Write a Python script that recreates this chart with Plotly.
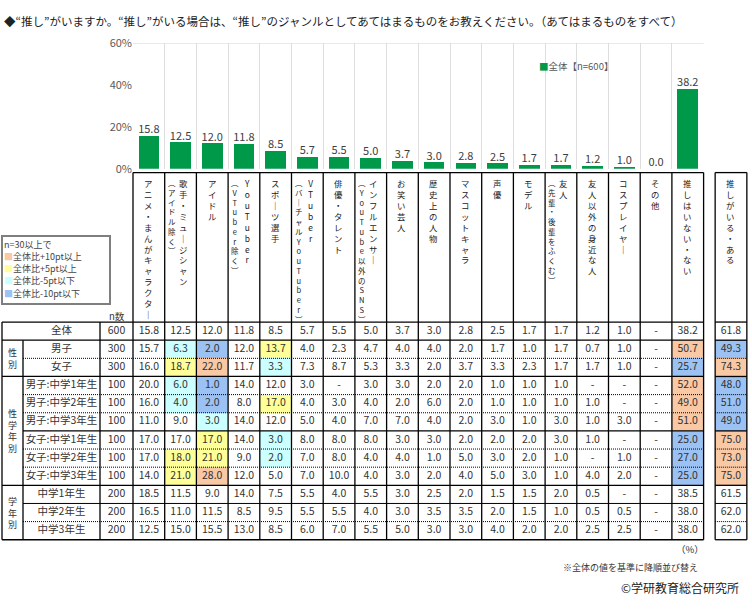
import plotly.graph_objects as go

W, HF = 752, 609
FONT = "Noto Sans CJK JP, Noto Sans, sans-serif"

# ---------------- data ----------------
categories = ["アニメ・まんがキャラクター", "歌手・ミュージシャン", "アイドル", "YouTuber", "スポーツ選手",
              "VTuber", "俳優・タレント", "インフルエンサー", "お笑い芸人", "歴史上の人物",
              "マスコットキャラ", "声優", "モデル", "友人", "友人以外の身近な人", "コスプレイヤー",
              "その他", "推しはいない・ない"]
sub_labels = [None, "（アイドル除く）", None, "（VTuber除く）", None, "（バーチャルYouTuber）", None,
              "（YouTube以外のSNS）", None, None, None, None, None, "（先輩・後輩をふくむ）", None, None,
              None, None]
extra_category = "推しがいる・ある"

row_labels = ["全体", "男子", "女子", "男子:中学1年生", "男子:中学2年生", "男子:中学3年生",
              "女子:中学1年生", "女子:中学2年生", "女子:中学3年生", "中学1年生", "中学2年生", "中学3年生"]
group_labels = [("性別", 1, 2), ("性学年別", 3, 8), ("学年別", 9, 11)]
n_values = [600, 300, 300, 100, 100, 100, 100, 100, 100, 200, 200, 200]

v_total = [15.8, 12.5, 12.0, 11.8, 8.5, 5.7, 5.5, 5.0, 3.7, 3.0, 2.8, 2.5, 1.7, 1.7, 1.2, 1.0, None, 38.2]
v_boys = [15.7, 6.3, 2.0, 12.0, 13.7, 4.0, 2.3, 4.7, 4.0, 4.0, 2.0, 1.7, 1.0, 1.7, 0.7, 1.0, None, 50.7]
v_girls = [16.0, 18.7, 22.0, 11.7, 3.3, 7.3, 8.7, 5.3, 3.3, 2.0, 3.7, 3.3, 2.3, 1.7, 1.7, 1.0, None, 25.7]
v_boys1 = [20.0, 6.0, 1.0, 14.0, 12.0, 3.0, None, 3.0, 3.0, 2.0, 2.0, 1.0, 1.0, 1.0, None, None, None, 52.0]
v_boys2 = [16.0, 4.0, 2.0, 8.0, 17.0, 4.0, 3.0, 4.0, 2.0, 6.0, 2.0, 1.0, 1.0, 1.0, 1.0, None, None, 49.0]
v_boys3 = [11.0, 9.0, 3.0, 14.0, 12.0, 5.0, 4.0, 7.0, 7.0, 4.0, 2.0, 3.0, 1.0, 3.0, 1.0, 3.0, None, 51.0]
v_girls1 = [17.0, 17.0, 17.0, 14.0, 3.0, 8.0, 8.0, 8.0, 3.0, 3.0, 2.0, 2.0, 2.0, 3.0, 1.0, None, None, 25.0]
v_girls2 = [17.0, 18.0, 21.0, 9.0, 2.0, 7.0, 8.0, 4.0, 4.0, 1.0, 5.0, 3.0, 2.0, 1.0, None, 1.0, None, 27.0]
v_girls3 = [14.0, 21.0, 28.0, 12.0, 5.0, 7.0, 10.0, 4.0, 3.0, 2.0, 4.0, 5.0, 3.0, 1.0, 4.0, 2.0, None, 25.0]
v_grade1 = [18.5, 11.5, 9.0, 14.0, 7.5, 5.5, 4.0, 5.5, 3.0, 2.5, 2.0, 1.5, 1.5, 2.0, 0.5, None, None, 38.5]
v_grade2 = [16.5, 11.0, 11.5, 8.5, 9.5, 5.5, 5.5, 4.0, 3.0, 3.5, 3.5, 2.0, 1.5, 1.0, 0.5, 0.5, None, 38.0]
v_grade3 = [12.5, 15.0, 15.5, 13.0, 8.5, 6.0, 7.0, 5.5, 5.0, 3.0, 3.0, 4.0, 2.0, 2.0, 2.5, 2.5, None, 38.0]
oshi_aru = [61.8, 49.3, 74.3, 48.0, 51.0, 49.0, 75.0, 73.0, 75.0, 61.5, 62.0, 62.0]

rows = [v_total, v_boys, v_girls, v_boys1, v_boys2, v_boys3, v_girls1, v_girls2, v_girls3,
        v_grade1, v_grade2, v_grade3]
bar_values = [v if v is not None else 0.0 for v in v_total]

y_ticks = [0, 20, 40, 60]
legend_title = "n=30以上で"
legend_items = ["全体比+10pt以上", "全体比+5pt以上", "全体比-5pt以下", "全体比-10pt以下"]

# ---------------- style ----------------
C_ORANGE, C_YELLOW, C_CYAN, C_BLUE = "#F9C8A5", "#FFFF99", "#CCFFFF", "#9BC2F2"
C_BAR = "#00994A"
TXT = "#333333"

X0, U = 133.0, 31.7          # column geometry (px)
Y0, RH = 321.5, 18.63         # first data row top, row height (px)


def px2x(p):
    return (p - X0) / U - 0.5


def px2y(p):
    return (p - Y0) / RH - 0.5


def pxp(p):
    return p / W


def pyp(p):
    return 1 - p / HF


def code(v, base, n):
    if v is None or base is None or n < 30:
        return None
    d = round(v - base, 1)
    if d >= 10:
        return 1
    if d >= 5:
        return 2
    if d <= -10:
        return 4
    if d <= -5:
        return 3
    return None


z_main = [[code(v, b, n) if r > 0 else None for v, b in zip(row, v_total)]
          for r, (row, n) in enumerate(zip(rows, n_values))]
z_extra = [[code(v, oshi_aru[0], n) if r > 0 else None]
           for r, (v, n) in enumerate(zip(oshi_aru, n_values))]
cscale = [[0, C_ORANGE], [1 / 3, C_YELLOW], [2 / 3, C_CYAN], [1, C_BLUE]]

fig = go.Figure()

# ---------------- bar chart ----------------
xs = list(range(len(categories)))
fig.add_trace(go.Bar(x=xs, y=bar_values, marker=dict(color=C_BAR, line=dict(width=0)),
                     width=0.65, xaxis="x", yaxis="y", hoverinfo="skip", showlegend=False))
fig.add_trace(go.Scatter(x=xs, y=bar_values, mode="text", text=[f"{v:.1f}" for v in bar_values],
                         textposition="top center", textfont=dict(size=11, color="#404040", family=FONT),
                         xaxis="x", yaxis="y", hoverinfo="skip", showlegend=False, cliponaxis=False))

# ---------------- table ----------------
EX = px2x(731)  # extra column centre
fig.add_trace(go.Heatmap(z=z_main, x=xs, y=list(range(len(rows))), colorscale=cscale, zmin=1, zmax=4,
                         showscale=False, hoverinfo="skip", xaxis="x2", yaxis="y2"))
fig.add_trace(go.Heatmap(z=z_extra, x=[EX], y=list(range(len(rows))), colorscale=cscale, zmin=1, zmax=4,
                         showscale=False, hoverinfo="skip", xaxis="x2", yaxis="y2"))

tx, ty, tt = [], [], []
for r, row in enumerate(rows):
    for c, v in enumerate(row):
        tx.append(c)
        ty.append(r)
        tt.append("-" if v is None else f"{v:.1f}")
    tx.append(EX)
    ty.append(r)
    tt.append(f"{oshi_aru[r]:.1f}")
    tx.append(px2x(116.5))
    ty.append(r)
    tt.append(str(n_values[r]))
fig.add_trace(go.Scatter(x=tx, y=ty, mode="text", text=tt, textposition="middle center",
                         textfont=dict(size=10.5, color=TXT, family=FONT), xaxis="x2", yaxis="y2",
                         hoverinfo="skip", showlegend=False, cliponaxis=False))

fig.add_trace(go.Scatter(x=[px2x(61.5)] * len(row_labels), y=list(range(len(row_labels))), mode="text",
                         text=row_labels, textposition="middle center",
                         textfont=dict(size=10.5, color=TXT, family=FONT), xaxis="x2", yaxis="y2",
                         hoverinfo="skip", showlegend=False, cliponaxis=False))

annotations = []

# group labels (vertical, one char per line)
for label, r0, r1 in group_labels:
    annotations.append(dict(xref="x2", yref="y2", x=px2x(12.5), y=(r0 + r1) / 2, showarrow=False,
                            text="<br>".join(label), xanchor="center", yanchor="middle", align="center",
                            borderpad=0, font=dict(size=9, color=TXT, family=FONT)))

# header vertical texts
VMAP = {"ー": "｜", "（": "︵", "）": "︶"}


def vert(s):
    return "<br>".join(VMAP.get(ch, ch) for ch in s)


for c, (lab, sub) in enumerate(list(zip(categories, sub_labels)) + [(extra_category, None)]):
    xc = c if c < len(categories) else EX
    off_main = 2.7 / U if sub else -0.5 / U
    annotations.append(dict(xref="x2", yref="y2", x=xc + off_main, y=px2y(171.5), showarrow=False,
                            text=vert(lab), xanchor="center", yanchor="top", align="center", borderpad=0,
                            font=dict(size=8.4, color="#222222", family=FONT)))
    if sub:
        annotations.append(dict(xref="x2", yref="y2", x=xc - 8.8 / U, y=px2y(171), showarrow=False,
                                text=vert(sub), xanchor="center", yanchor="top", align="center", borderpad=0,
                                font=dict(size=7.5, color="#222222", family=FONT)))

# ---------------- table lines ----------------
shapes = []
SOLID = dict(color="black", width=1.3)
DOT = dict(color="black", width=1, dash="1px,1px")


def hline(y, x0, x1, line):
    shapes.append(dict(type="line", xref="x2", yref="y2", x0=x0, x1=x1, y0=y, y1=y, line=line))


def vline(x, y0, y1, line):
    shapes.append(dict(type="line", xref="x2", yref="y2", x0=x, x1=x, y0=y0, y1=y1, line=line))


nrows = len(rows)
ncols = len(categories)
HT = px2y(168)
EXL, EXR = EX - 0.5, EX + 0.5
XL, XG, XN = px2x(2), px2x(23), px2x(100)
bottom = nrows - 0.5

hline(HT, -0.5, ncols - 0.5, SOLID)
hline(HT, EXL, EXR, SOLID)
hline(-0.5, XL, ncols - 0.5, SOLID)
hline(-0.5, EXL, EXR, SOLID)
boundary_style = {0.5: ("full", SOLID), 1.5: ("grp", DOT), 2.5: ("full", SOLID), 3.5: ("grp", DOT),
                  4.5: ("grp", DOT), 5.5: ("grp", SOLID), 6.5: ("grp", DOT), 7.5: ("grp", DOT),
                  8.5: ("full", SOLID), 9.5: ("grp", dict(color="black", width=1)), 10.5: ("grp", DOT)}
for yb, (kind, ln) in boundary_style.items():
    hline(yb, XL if kind == "full" else XG, ncols - 0.5, ln)
    hline(yb, EXL, EXR, ln)
hline(bottom, XL, ncols - 0.5, SOLID)
hline(bottom, EXL, EXR, SOLID)

vline(XL, -0.5, bottom, SOLID)
vline(XG, 0.5, bottom, SOLID)
vline(XN, -0.5, bottom, SOLID)
for c in range(ncols + 1):
    vline(c - 0.5, HT, bottom, SOLID)
vline(EXL, HT, bottom, SOLID)
vline(EXR, HT, bottom, SOLID)

# top border of bar plot area
shapes.append(dict(type="line", xref="x domain", yref="y", x0=0, x1=1, y0=60, y1=60,
                   line=dict(color="#d9d9d9", width=1)))

# legend box
shapes.append(dict(type="rect", xref="paper", yref="paper", x0=pxp(2), x1=pxp(110), y0=pyp(303),
                   y1=pyp(233), line=dict(color="#7f7f7f", width=2), fillcolor="white"))
legend_lines = [legend_title] + [f"<span style='color:{col}'>■</span>{lab}"
                                 for lab, col in zip(legend_items, [C_ORANGE, C_YELLOW, C_CYAN, C_BLUE])]
LEG_STEP = 12.6
for i, line in enumerate(legend_lines):
    annotations.append(dict(xref="paper", yref="paper", x=pxp(3), y=pyp(241.5 + i * LEG_STEP), text=line,
                            showarrow=False, xanchor="left", yanchor="middle", align="left", borderpad=0,
                            font=dict(size=9, color="#444444", family=FONT)))

annotations += [
    dict(xref="paper", yref="paper", x=pxp(2), y=pyp(12), xanchor="left", yanchor="middle", showarrow=False,
         text="◆“推し”がいますか。“推し”がいる場合は、“推し”のジャンルとしてあてはまるものをお教えください。（あてはまるものをすべて）",
         font=dict(size=11.5, color="#222222", family=FONT)),
    dict(xref="paper", yref="paper", x=pxp(537), y=pyp(59), xanchor="left", yanchor="middle", showarrow=False,
         text=f"<span style='color:{C_BAR}'>■</span>全体【n={n_values[0]}】",
         font=dict(size=9.5, color="#595959", family=FONT)),
    dict(xref="paper", yref="paper", x=pxp(117), y=pyp(315), xanchor="center", yanchor="middle", showarrow=False,
         borderpad=0, text="n数", font=dict(size=9.5, color=TXT, family=FONT)),
    dict(xref="paper", yref="paper", x=pxp(690), y=pyp(555), xanchor="center", yanchor="middle", showarrow=False,
         text="（%）", font=dict(size=9.5, color=TXT, family=FONT)),
    dict(xref="paper", yref="paper", x=pxp(700), y=pyp(574), xanchor="right", yanchor="middle", showarrow=False,
         text="※全体の値を基準に降順並び替え", font=dict(size=9, color=TXT, family=FONT)),
    dict(xref="paper", yref="paper", x=pxp(741), y=pyp(594), xanchor="right", yanchor="middle", showarrow=False,
         text="©学研教育総合研究所", font=dict(size=12, color="#222222", family=FONT)),
]

fig.update_layout(
    width=W, height=HF, margin=dict(l=0, r=0, t=0, b=0), paper_bgcolor="white", plot_bgcolor="rgba(0,0,0,0)",
    font=dict(family=FONT, color=TXT), showlegend=False, bargap=0,
    xaxis=dict(domain=[X0 / W, (X0 + ncols * U) / W], range=[-0.5, ncols - 0.5],
               tickvals=[c - 0.5 for c in range(ncols + 1)], showticklabels=False, ticks="",
               showgrid=True, gridcolor="#dedede", gridwidth=1, zeroline=False, showline=False,
               fixedrange=True),
    yaxis=dict(domain=[1 - 164 / HF, 1 - 35 / HF], range=[0, 60], tickmode="array", tickvals=y_ticks,
               ticktext=[f"{t}%" for t in y_ticks], showgrid=False, zeroline=False, showline=False,
               ticks="", tickfont=dict(size=11, color="#595959", family=FONT), fixedrange=True),
    xaxis2=dict(domain=[0, 1], range=[px2x(0), px2x(W)], visible=False, anchor="y2", fixedrange=True),
    yaxis2=dict(domain=[0, 1], range=[px2y(HF), px2y(0)], visible=False, anchor="x2", fixedrange=True),
    shapes=shapes, annotations=annotations,
)

fig.write_html("out.html", config={"displayModeBar": False},
               post_script="document.body.style.margin='0px';document.body.style.padding='0px';")
